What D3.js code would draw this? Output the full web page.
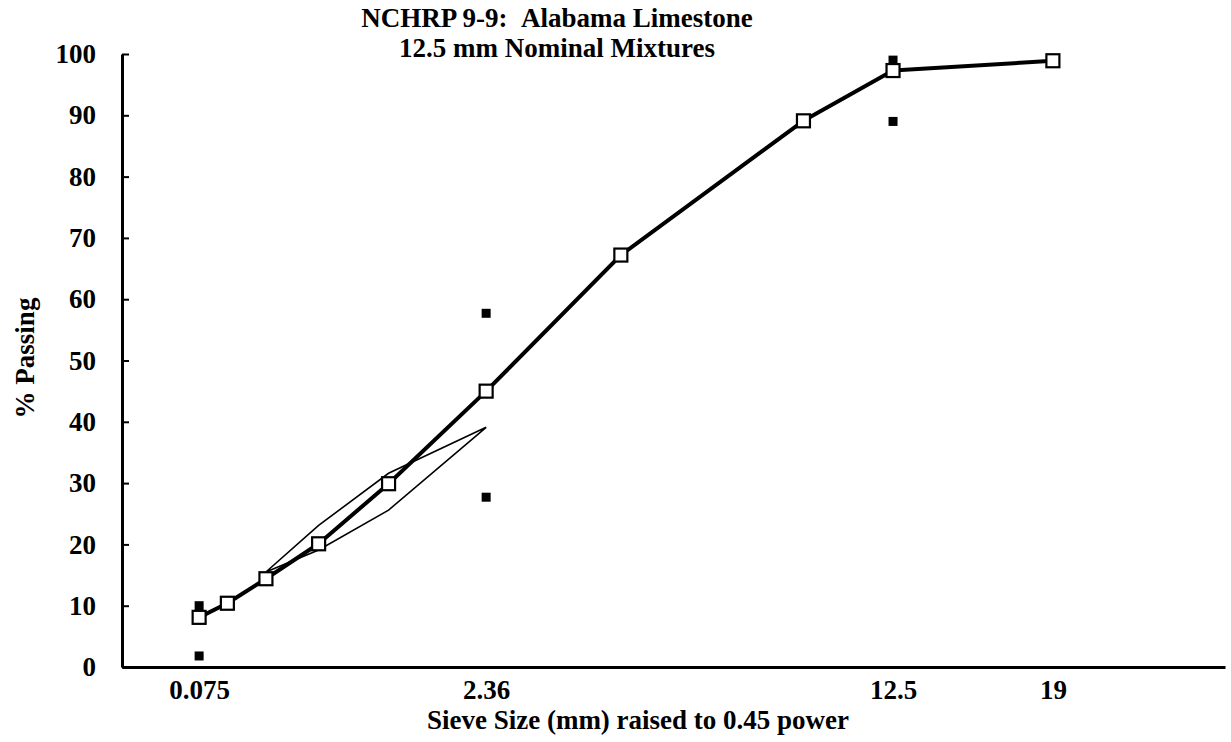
<!DOCTYPE html>
<html>
<head>
<meta charset="utf-8">
<script src="https://cdn.jsdelivr.net/npm/d3@7"></script>
<style>
  html, body { margin: 0; padding: 0; background: #fff; }
  svg { display: block; }
  text { font-family: "Liberation Serif", "Times New Roman", serif; font-weight: bold; fill: #000; }
</style>
</head>
<body>
<svg id="chart" width="1231" height="742"></svg>
<script>
// Sieve sizes (mm) and percent passing for the mixture gradation
const sieves = [0.075, 0.15, 0.3, 0.6, 1.18, 2.36, 4.75, 9.5, 12.5, 19];
const passing = [8.1, 10.4, 14.4, 20.1, 29.9, 45.0, 67.2, 89.1, 97.3, 98.9];

// Control points (min / max) at their sieves
const controlSieves = [0.075, 0.075, 2.36, 2.36, 12.5, 12.5];
const controlValues = [1.8, 10.0, 27.7, 57.7, 89.0, 99.0];

// Restricted zone outline (upper edge out, lower edge back)
const zoneSieves = [0.3, 0.6, 1.18, 2.36, 1.18, 0.6, 0.3];
const zoneValues = [15.5, 23.1, 31.6, 39.1, 25.6, 19.1, 15.5];

// Axis tick values
const xTickValues = [0.075, 2.36, 12.5, 19];
const yTickValues = [0, 10, 20, 30, 40, 50, 60, 70, 80, 90, 100];

const svg = d3.select("#chart");
const fontSize = "27px";

// 0.45 power chart: sieve size raised to 0.45
const x = d3.scalePow().exponent(0.45).domain([0, 27.7]).range([122, 1225]);
const y = d3.scaleLinear().domain([0, 100]).range([667, 54]);

// Y axis: ticks point inward, labels to the left
const yAxis = svg.append("g")
  .attr("transform", `translate(${x(0)},0)`)
  .call(d3.axisLeft(y).tickValues(yTickValues).tickSize(-7).tickSizeOuter(0).tickPadding(26));
yAxis.select(".domain").attr("stroke", "#000").attr("stroke-width", 3);
yAxis.selectAll(".tick line").attr("stroke", "#000").attr("stroke-width", 2);
yAxis.selectAll(".tick text").style("font-size", fontSize).style("font-family", "Liberation Serif").style("font-weight", "bold");

// X axis: no tick marks, labels at selected sieves
const xAxis = svg.append("g")
  .attr("transform", `translate(0,${y(0)})`)
  .call(d3.axisBottom(x).tickValues(xTickValues).tickSize(0).tickPadding(13).tickFormat(d => String(d)));
xAxis.select(".domain").attr("stroke", "#000").attr("stroke-width", 3);
xAxis.selectAll(".tick text").style("font-size", fontSize).style("font-family", "Liberation Serif").style("font-weight", "bold");

// Restricted zone
const zoneLine = d3.line().x((d, i) => x(zoneSieves[i])).y(d => y(d));
svg.append("path")
  .attr("d", zoneLine(zoneValues))
  .attr("fill", "none")
  .attr("stroke", "#000")
  .attr("stroke-width", 1.6)
  .attr("stroke-linejoin", "miter");

// Gradation line
const gradLine = d3.line().x((d, i) => x(sieves[i])).y(d => y(d));
svg.append("path")
  .attr("d", gradLine(passing))
  .attr("fill", "none")
  .attr("stroke", "#000")
  .attr("stroke-width", 4)
  .attr("stroke-linejoin", "round");

// Control points
const cs = 9;
svg.append("g").selectAll("rect")
  .data(controlValues)
  .join("rect")
  .attr("x", (d, i) => x(controlSieves[i]) - cs / 2)
  .attr("y", d => y(d) - cs / 2)
  .attr("width", cs)
  .attr("height", cs)
  .attr("fill", "#000");

// Gradation markers (open squares)
const ms = 13;
svg.append("g").selectAll("rect")
  .data(passing)
  .join("rect")
  .attr("x", (d, i) => x(sieves[i]) - ms / 2)
  .attr("y", d => y(d) - ms / 2)
  .attr("width", ms)
  .attr("height", ms)
  .attr("fill", "#fff")
  .attr("stroke", "#000")
  .attr("stroke-width", 2.2);

// Titles
svg.append("text")
  .attr("x", 557).attr("y", 27)
  .attr("text-anchor", "middle")
  .style("font-size", fontSize)
  .text("NCHRP 9-9:\u00a0\u00a0Alabama Limestone");
svg.append("text")
  .attr("x", 557).attr("y", 57)
  .attr("text-anchor", "middle")
  .style("font-size", fontSize)
  .text("12.5 mm Nominal Mixtures");

svg.append("text")
  .attr("x", 638).attr("y", 729)
  .attr("text-anchor", "middle")
  .style("font-size", fontSize)
  .text("Sieve Size (mm) raised to 0.45 power");

svg.append("text")
  .attr("transform", "translate(34,358) rotate(-90)")
  .attr("text-anchor", "middle")
  .style("font-size", fontSize)
  .text("% Passing");
</script>
</body>
</html>
